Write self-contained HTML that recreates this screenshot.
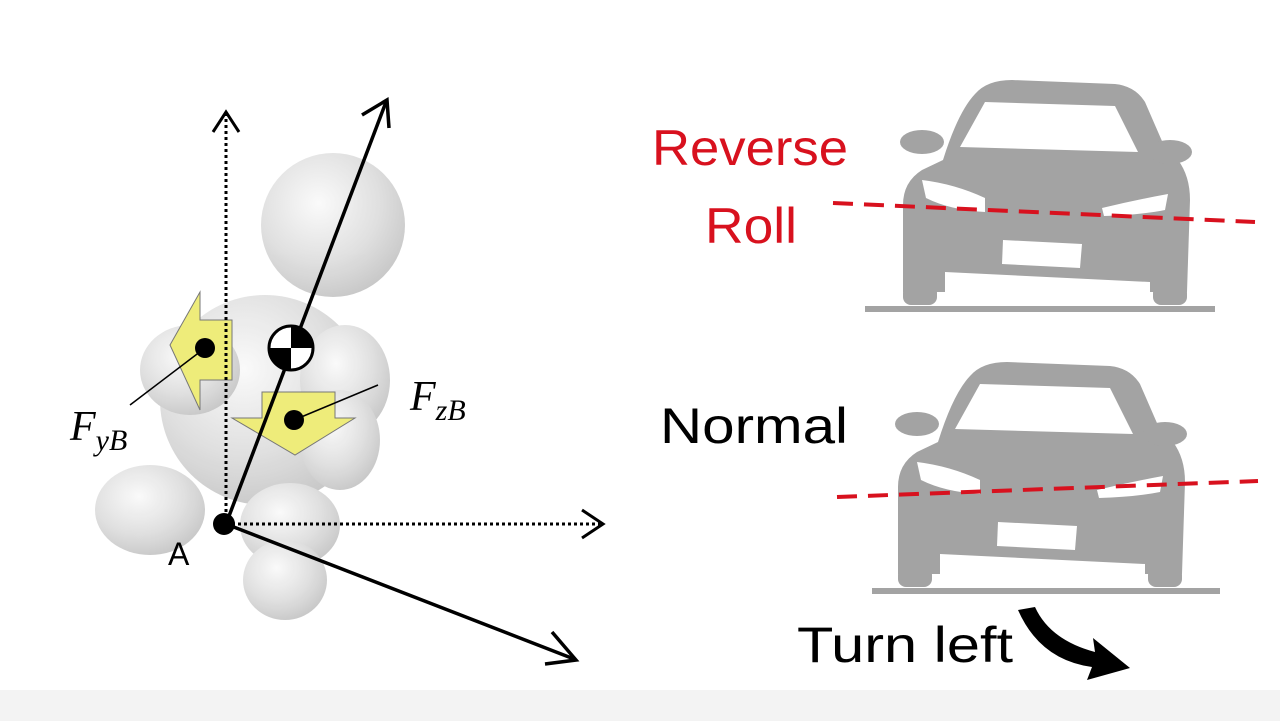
<!DOCTYPE html>
<html><head><style>html,body{margin:0;padding:0;background:#fff;}svg{display:block}</style></head><body>
<svg width="1280" height="721" viewBox="0 0 1280 721" xmlns="http://www.w3.org/2000/svg">
<defs>
<radialGradient id="g" cx="0.4" cy="0.35" r="0.7"><stop offset="0" stop-color="#fafafa"/><stop offset="0.6" stop-color="#dedede"/><stop offset="1" stop-color="#c4c4c4"/></radialGradient>
<g id="car">
<path d="M903,292 L903,205 Q903,182 922,170 L943,160 Q958,112 975,94 Q987,80 1012,80 L1115,84 Q1135,86 1145,102 L1165,148 L1178,160 Q1190,176 1190,200 L1187,292 Z" fill="#a3a3a3"/>
<ellipse cx="922" cy="142" rx="22" ry="12" fill="#a3a3a3"/>
<ellipse cx="1170" cy="152" rx="22" ry="12" fill="#a3a3a3"/>
<path d="M960,147 L985,102 L1115,106 L1138,152 Z" fill="#fff"/>
<rect x="903" y="285" width="34" height="20" rx="8" fill="#a3a3a3"/>
<rect x="1153" y="285" width="34" height="20" rx="8" fill="#a3a3a3"/>
<path d="M945,272 L1150,282 L1150,306 L945,306 Z" fill="#fff"/>
<path d="M922,180 Q955,184 985,198 L985,212 Q950,210 926,198 Z" fill="#fff"/>
<path d="M1102,208 Q1135,200 1168,194 L1165,210 Q1140,215 1104,216 Z" fill="#fff"/>
<path d="M1003,240 L1082,244 L1080,268 L1002,264 Z" fill="#fff"/>
</g>
</defs>
<rect x="0" y="690" width="1280" height="31" fill="#f3f3f3"/>
<g opacity="0.95">
<ellipse cx="265" cy="400" rx="105" ry="105" fill="url(#g)"/>
<ellipse cx="190" cy="370" rx="50" ry="45" fill="url(#g)"/>
<ellipse cx="345" cy="380" rx="45" ry="55" fill="url(#g)"/>
<ellipse cx="150" cy="510" rx="55" ry="45" fill="url(#g)"/>
<ellipse cx="290" cy="525" rx="50" ry="42" fill="url(#g)"/>
<ellipse cx="285" cy="580" rx="42" ry="40" fill="url(#g)"/>
<ellipse cx="340" cy="440" rx="40" ry="50" fill="url(#g)"/>
<circle cx="333" cy="225" r="72" fill="url(#g)"/>
</g>
<path d="M170,345 L200,292 L200,320 L232,320 L232,380 L200,380 L200,410 Z" fill="#eeec7a" stroke="#777" stroke-width="1"/>
<path d="M262,392 L335,392 L335,418 L355,418 L295,455 L232,418 L262,418 Z" fill="#eeec7a" stroke="#777" stroke-width="1"/>
<circle cx="205" cy="348" r="10" fill="#000"/>
<circle cx="294" cy="420" r="10" fill="#000"/>
<line x1="205" y1="348" x2="130" y2="405" stroke="#000" stroke-width="1.5"/>
<line x1="294" y1="420" x2="378" y2="385" stroke="#000" stroke-width="1.5"/>
<g stroke="#000" fill="none">
<line x1="226" y1="524" x2="226" y2="114" stroke-width="3" stroke-dasharray="3,3"/>
<polyline points="213,132 226,112 239,132" stroke-width="3"/>
<line x1="226" y1="524" x2="600" y2="524" stroke-width="3" stroke-dasharray="3,3"/>
<polyline points="582,510 603,524 582,538" stroke-width="3"/>
<line x1="226" y1="524" x2="386" y2="102" stroke-width="3.5"/>
<polyline points="362,115 387,100 389,128" stroke-width="3.5"/>
<line x1="226" y1="524" x2="574" y2="659" stroke-width="3.5"/>
<polyline points="552,632 576,660 545,664" stroke-width="3.5"/>
</g>
<circle cx="291" cy="348" r="22" fill="#fff" stroke="#000" stroke-width="3"/>
<path d="M291,348 L291,326 A22,22 0 0 1 313,348 Z M291,348 L291,370 A22,22 0 0 1 269,348 Z" fill="#000"/>
<circle cx="224" cy="524" r="11" fill="#000"/>
<text x="168" y="565" font-family="Liberation Sans, sans-serif" font-size="32" fill="#000">A</text>
<text x="70" y="440" font-family="Liberation Serif, serif" font-style="italic" font-size="42">F<tspan font-size="30" dy="10">yB</tspan></text>
<text x="410" y="410" font-family="Liberation Serif, serif" font-style="italic" font-size="42">F<tspan font-size="30" dy="10">zB</tspan></text>
<use href="#car"/>
<rect x="865" y="306" width="350" height="6" fill="#a3a3a3"/>
<use href="#car" transform="translate(-5,282)"/>
<rect x="872" y="588" width="348" height="6" fill="#a3a3a3"/>
<line x1="833" y1="203" x2="1255" y2="222" stroke="#d8111e" stroke-width="4" stroke-dasharray="20,11"/>
<line x1="837" y1="497" x2="1258" y2="481" stroke="#d8111e" stroke-width="4" stroke-dasharray="20,11"/>
<text x="652" y="165" font-family="Liberation Sans, sans-serif" font-size="50" fill="#d8111e" textLength="196" lengthAdjust="spacingAndGlyphs">Reverse</text>
<text x="705" y="243" font-family="Liberation Sans, sans-serif" font-size="50" fill="#d8111e" textLength="92" lengthAdjust="spacingAndGlyphs">Roll</text>
<text x="660" y="443" font-family="Liberation Sans, sans-serif" font-size="50" fill="#000" textLength="188" lengthAdjust="spacingAndGlyphs">Normal</text>
<text x="797" y="662" font-family="Liberation Sans, sans-serif" font-size="50" fill="#000" textLength="216" lengthAdjust="spacingAndGlyphs">Turn left</text>
<path d="M1035,607 Q1050,640 1095,652 L1093,638 L1130,668 L1087,680 L1092,667 Q1040,660 1018,610 Z" fill="#000"/>
</svg>
</body></html>
